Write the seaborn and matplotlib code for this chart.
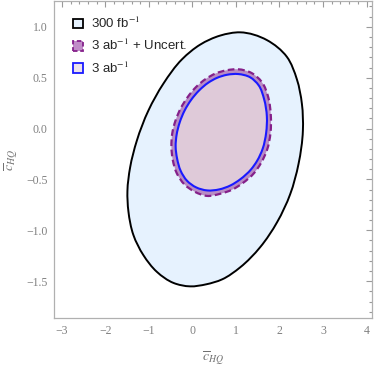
import numpy as np
import pandas as pd
import matplotlib
matplotlib.use("Agg")
import matplotlib.pyplot as plt
import seaborn as sns
from matplotlib.patches import Patch, PathPatch
from matplotlib.path import Path
from matplotlib.ticker import MultipleLocator

# --- data (boundary points) ---
outer_x = [1.097, 1.710, 2.170, 2.400, 2.515, 2.538, 2.437, 2.246, 1.947, 1.556,
           1.097, 0.683, 0.315, -0.053, -0.437, -0.818, -1.126, -1.356, -1.471,
           -1.494, -1.432, -1.278, -1.011, -0.667, -0.237, 0.177, 0.637]
outer_y = [0.946, 0.870, 0.705, 0.484, 0.244, -0.020, -0.349, -0.645, -0.919, -1.166,
           -1.364, -1.482, -1.531, -1.551, -1.517, -1.408, -1.245, -1.047, -0.815,
           -0.613, -0.382, -0.119, 0.178, 0.442, 0.682, 0.825, 0.914]

blue_x = [1.051, 1.326, 1.522, 1.648, 1.710, 1.694, 1.614, 1.487, 1.349, 1.097,
          0.878, 0.614, 0.338, 0.085, -0.122, -0.271, -0.352, -0.386, -0.363,
          -0.294, -0.179, -0.030, 0.154, 0.361, 0.568, 0.798]
blue_y = [0.536, 0.504, 0.425, 0.287, 0.119, -0.040, -0.198, -0.316, -0.400, -0.499,
          -0.558, -0.598, -0.608, -0.578, -0.514, -0.415, -0.296, -0.178, -0.059,
          0.059, 0.178, 0.282, 0.375, 0.450, 0.499, 0.529]

unc_x = [1.051, 1.359, 1.595, 1.745, 1.802, 1.793, 1.713, 1.575, 1.425, 1.149,
         0.915, 0.630, 0.338, 0.053, -0.184, -0.359, -0.451, -0.483, -0.464,
         -0.391, -0.267, -0.110, 0.087, 0.310, 0.536, 0.786]
unc_y = [0.583, 0.546, 0.457, 0.303, 0.119, -0.044, -0.211, -0.339, -0.433, -0.538,
         -0.600, -0.642, -0.662, -0.621, -0.549, -0.440, -0.310, -0.178, -0.048,
         0.076, 0.201, 0.309, 0.410, 0.489, 0.542, 0.573]

labels = [r"300 fb$^{-1}$", r"3 ab$^{-1}$ + Uncert.", r"3 ab$^{-1}$"]
x_ticks = [-3, -2, -1, 0, 1, 2, 3, 4]
y_ticks = [-1.5, -1.0, -0.5, 0.0, 0.5, 1.0]

sns.set_style("white")
plt.rcParams["mathtext.fontset"] = "stix"

fig = plt.figure(figsize=(3.75, 3.67), dpi=100)
ax = fig.add_axes([0.1453, 0.1335, 0.846, 0.8638])
ax.set_xlim(-3.17, 4.12)
ax.set_ylim(-1.862, 1.254)


def smooth_closed_path(xs, ys):
    """Closed cubic-Bezier path passing through the read points
    (chord-length Catmull-Rom, chord lengths measured on screen)."""
    P = np.column_stack([xs, ys]).astype(float)
    D = ax.transData.transform(P)
    n = len(P)
    d = np.array([np.hypot(*(D[(i + 1) % n] - D[i])) for i in range(n)])
    m = np.zeros_like(P)
    for i in range(n):
        dp, dn = d[i - 1], d[i]
        sp = (P[i] - P[i - 1]) / dp
        sn = (P[(i + 1) % n] - P[i]) / dn
        m[i] = (sp * dn + sn * dp) / (dp + dn)
    verts = [P[0]]
    codes = [Path.MOVETO]
    for i in range(n):
        j = (i + 1) % n
        verts += [P[i] + m[i] * d[i] / 3.0, P[j] - m[j] * d[i] / 3.0, P[j]]
        codes += [Path.CURVE4] * 3
    verts.append(P[0])
    codes.append(Path.CLOSEPOLY)
    return Path(verts, codes)


c_outer_fill = "#e6f2fe"
c_band = "#b98cc4"
c_inner = "#dfcad9"

p_outer = smooth_closed_path(outer_x, outer_y)
p_unc = smooth_closed_path(unc_x, unc_y)
p_blue = smooth_closed_path(blue_x, blue_y)

ax.add_patch(PathPatch(p_outer, facecolor=c_outer_fill, edgecolor="black", lw=1.4, zorder=1))
ax.add_patch(PathPatch(p_unc, facecolor=c_band, edgecolor="none", zorder=2))
ax.add_patch(PathPatch(p_blue, facecolor=c_inner, edgecolor="#1a1aff", lw=1.5, zorder=4))
ax.add_patch(PathPatch(p_unc, facecolor="none", edgecolor="#85208a", lw=1.6,
                       linestyle=(0, (3.0, 1.6)), zorder=3))

ax.set_xticks(x_ticks)
ax.set_yticks(y_ticks)
ax.xaxis.set_minor_locator(MultipleLocator(0.2))
ax.yaxis.set_minor_locator(MultipleLocator(0.1))
ax.set_xticklabels([f"{t:g}".replace("-", "\u2212") for t in x_ticks])
ax.set_yticklabels([f"{t:.1f}".replace("-", "\u2212") for t in y_ticks])

gray = "#9a9a9a"
for s in ax.spines.values():
    s.set_color("#b0b0b0")
    s.set_linewidth(0.9)
ax.tick_params(which="both", direction="in", top=True, right=True,
               color=gray, labelcolor="#808080", width=0.8)
ax.tick_params(which="major", length=4.5, labelsize=8.5, pad=5)
ax.tick_params(which="minor", length=2.5)
for lab in ax.get_xticklabels() + ax.get_yticklabels():
    lab.set_family("Liberation Serif")

ax.set_xlabel(r"$\overline{c}_{HQ}$", fontsize=10, color="#707070", labelpad=9)
ax.set_ylabel(r"$\overline{c}_{HQ}$", fontsize=10, color="#707070", labelpad=4)

handles = [
    Patch(facecolor=c_outer_fill, edgecolor="black", lw=1.3),
    Patch(facecolor="#c08cc8", edgecolor="#85208a", lw=1.3, linestyle=(0, (2.5, 1.5))),
    Patch(facecolor="#ece2ea", edgecolor="#1a1aff", lw=1.3),
]
leg = ax.legend(handles, labels, loc="upper left", frameon=False,
                bbox_to_anchor=(0.02, 0.99), handlelength=0.75, handleheight=0.75,
                handletextpad=0.6, labelspacing=0.55,
                prop={"family": "Liberation Sans", "size": 9.5})

fig.savefig("out.png", dpi=100)
